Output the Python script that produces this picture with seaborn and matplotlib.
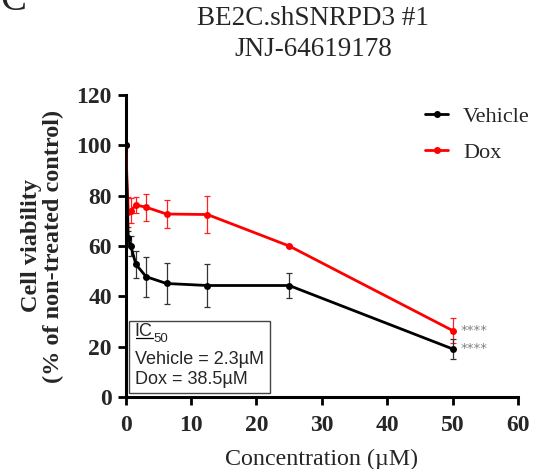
import numpy as np
import pandas as pd
import matplotlib
matplotlib.use("Agg")
import matplotlib.pyplot as plt
import seaborn as sns
from matplotlib.lines import Line2D
from matplotlib.patches import Rectangle

# ---- data ----
conc = [0, 0.39, 0.78, 1.56, 3.125, 6.25, 12.5, 25, 50]
vehicle_mean = [100, 63.0, 60.0, 52.7, 47.8, 45.1, 44.3, 44.3, 19.1]
vehicle_err = [0, 3.0, 4.0, 5.5, 7.9, 8.2, 8.7, 4.9, 3.9]
dox_mean = [100, 73.4, 74.0, 76.3, 75.4, 72.7, 72.5, 60.0, 26.4]
dox_err = [0, 6.0, 5.0, 3.0, 5.4, 5.7, 7.5, 0.5, 4.8]
series = ["Vehicle", "Dox"]
colors = {"Vehicle": "#000000", "Dox": "#ff0000"}
err_colors = {"Vehicle": "#333333", "Dox": "#ff2020"}
x_ticks = [0, 10, 20, 30, 40, 50, 60]
y_ticks = [0, 20, 40, 60, 80, 100, 120]
stars = ["****", "****"]
ic50_lines = ["Vehicle = 2.3\u00b5M", "Dox = 38.5\u00b5M"]

df = pd.DataFrame({
    "conc": conc * 2,
    "viability": vehicle_mean + dox_mean,
    "err": vehicle_err + dox_err,
    "group": ["Vehicle"] * len(conc) + ["Dox"] * len(conc),
})

sns.set_theme(style="ticks")
plt.rcParams["font.family"] = ["Liberation Serif", "DejaVu Serif"]

fig = plt.figure(figsize=(5.36, 4.69), dpi=100)
ax = fig.add_axes([0.2345, 0.1535, 0.732, 0.644])

# draw Dox first, then Vehicle on top
for g in ["Dox", "Vehicle"]:
    sub = df[df["group"] == g]
    ax.errorbar(sub["conc"], sub["viability"], yerr=sub["err"], fmt="none",
                ecolor=err_colors[g], elinewidth=0.9, capsize=2.5, capthick=0.9,
                zorder=2)

sns.lineplot(data=df, x="conc", y="viability", hue="group",
             hue_order=["Dox", "Vehicle"], palette=colors, marker="o",
             markersize=5, markeredgewidth=0, linewidth=2.0, ax=ax,
             legend=False, zorder=3)

ax.set_xlim(0, 60)
ax.set_ylim(0, 120)
ax.set_xticks(x_ticks)
ax.set_yticks(y_ticks)
ax.set_xticklabels([str(t) for t in x_ticks], fontsize=17, fontweight="bold")
ax.set_yticklabels([str(t) for t in y_ticks], fontsize=17, fontweight="bold")
ax.tick_params(axis="both", length=6, width=2, color="black")
ax.tick_params(axis="x", pad=7)
ax.tick_params(axis="y", pad=4)
for s in ["top", "right"]:
    ax.spines[s].set_visible(False)
for s in ["left", "bottom"]:
    ax.spines[s].set_linewidth(2.2)
    ax.spines[s].set_color("black")

ax.set_xlabel("Concentration (\u00b5M)", fontsize=17.3, labelpad=9)
ax.set_ylabel("Cell viability\n(% of non-treated control)", fontsize=17.5,
              fontweight="bold", labelpad=9, linespacing=1.05)

# legend
handles = [Line2D([0], [0], color=colors[g], marker="o", markersize=4,
                  linewidth=2.0) for g in series]
ax.legend(handles, series, loc="upper right", bbox_to_anchor=(1.07, 1.015),
          frameon=False, fontsize=16, handlelength=1.0, labelspacing=0.72,
          handletextpad=0.7, borderaxespad=0.3)

# significance stars
ax.text(51.2, dox_mean[-1], stars[0], color="#808080", fontsize=9.5,
        va="center", ha="left", family="DejaVu Sans")
ax.text(51.2, vehicle_mean[-1], stars[1], color="#808080", fontsize=9.5,
        va="center", ha="left", family="DejaVu Sans")

# IC50 box
ax.add_patch(Rectangle((0.5, 1.6), 21.5, 28.7, fc="white", ec="#444444",
                       lw=1.0, zorder=4))
ic = ax.text(1.4, 25.9, "IC", fontsize=13, family="Liberation Sans",
             va="center", ha="left", zorder=6)
ax.annotate("50", xy=(1, 0.05), xycoords=ic, xytext=(0.3, 0),
            textcoords="offset points", fontsize=9.5,
            family="Liberation Sans", va="center", ha="left", zorder=6)
ax.text(1.4, 15.1, ic50_lines[0], fontsize=13, family="Liberation Sans",
        va="center", ha="left", zorder=6)
ax.text(1.4, 7.1, ic50_lines[1], fontsize=13, family="Liberation Sans",
        va="center", ha="left", zorder=6)
fig.canvas.draw()
r = fig.canvas.get_renderer()
inv = ax.transData.inverted()
ib = ic.get_window_extent(r)
(ux0, uy), (ux1, _) = inv.transform([(ib.x0 + 1, ib.y0 + 2.5), (ib.x1, ib.y0 + 2.5)])
ax.add_line(Line2D([ux0, ux1], [uy, uy], color="black", lw=0.9, zorder=6))

# titles
fig.text(0.583, 0.9595, "BE2C.shSNRPD3 #1", fontsize=19.5, ha="center", va="center")
fig.text(0.585, 0.8955, "JNJ-64619178", fontsize=19.5, ha="center", va="center")
fig.text(0.0, 1.0, "C", fontsize=28, ha="left", va="center")

fig.savefig("out.png", dpi=100)
